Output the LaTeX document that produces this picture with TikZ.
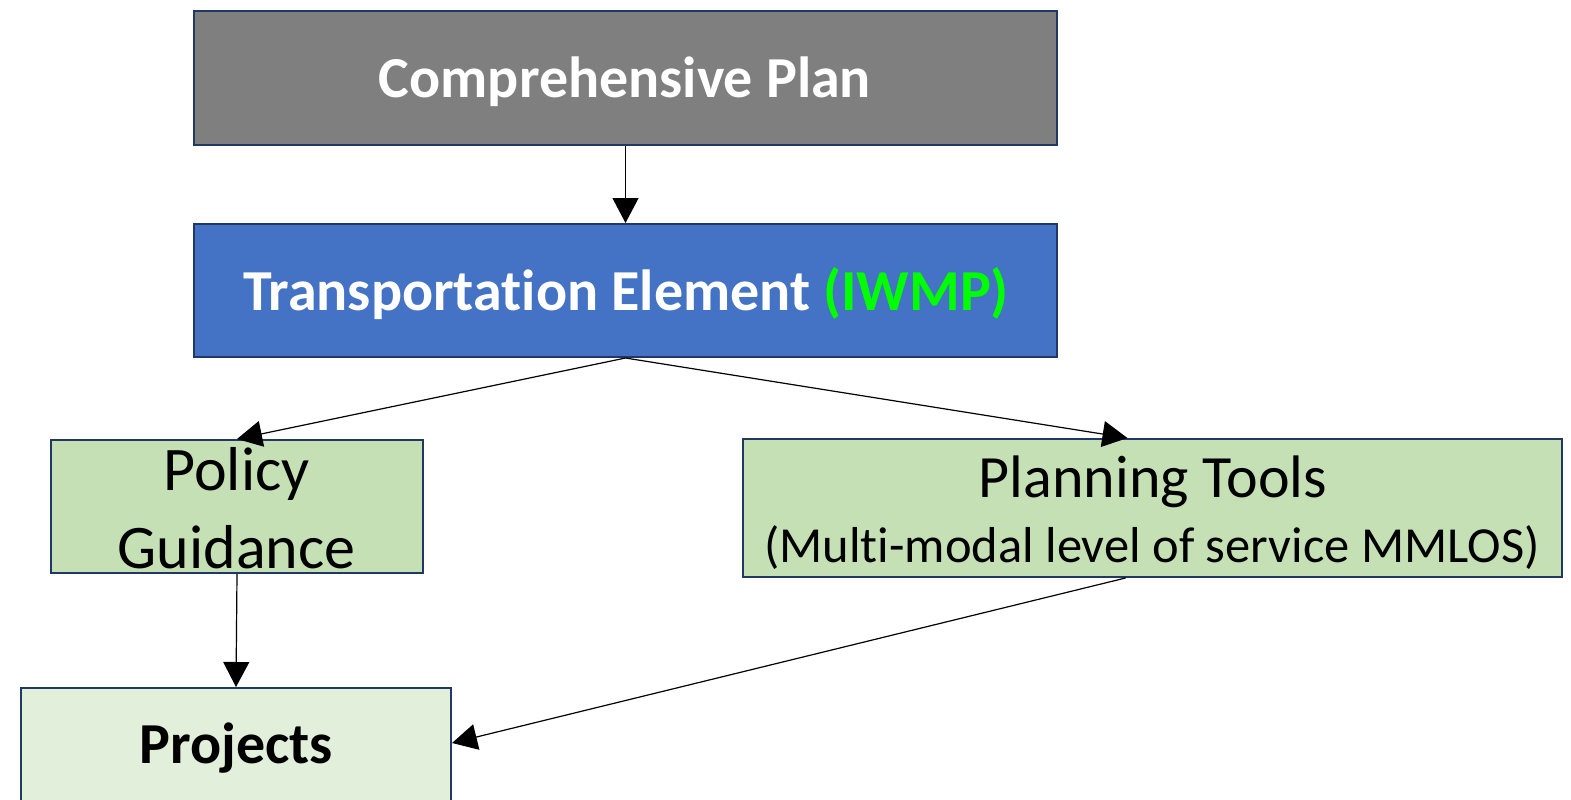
\documentclass[tikz,border=0pt]{standalone}
\usepackage{fontspec}
\setmainfont{Carlito}[Ligatures=NoCommon]
\usetikzlibrary{arrows.meta}
\definecolor{boxborder}{HTML}{1F3864}
\definecolor{compgray}{HTML}{7F7F7F}
\definecolor{transblue}{HTML}{4472C4}
\definecolor{midgreen}{HTML}{C5E0B4}
\definecolor{lightgreen}{HTML}{E2EFDA}
\definecolor{iwmpgreen}{HTML}{00FF00}
\tikzset{
  boxnode/.style={draw=boxborder, line width=2bp, inner sep=0pt, rectangle},
  txt/.style={anchor=base, inner sep=0pt},
  conn/.style={draw=black, line width=1.2bp, -{Triangle[length=25bp,width=26bp]}},
}
\begin{document}
\begin{tikzpicture}[x=1bp,y=-1bp]
\useasboundingbox (0,0) rectangle (1571,799);
% boxes
\node[boxnode, fill=compgray, minimum width=863bp, minimum height=134bp] (comp) at (625.5,78) {};
\node[boxnode, fill=transblue, minimum width=863bp, minimum height=133bp] (trans) at (625.5,290.5) {};
\node[boxnode, fill=midgreen, minimum width=372bp, minimum height=133bp] (policy) at (237,506.5) {};
\node[boxnode, fill=midgreen, minimum width=819bp, minimum height=138bp] (plan) at (1152.5,508) {};
\node[boxnode, fill=lightgreen, minimum width=430bp, minimum height=120bp] (proj) at (236,748) {};
% texts
\node[txt, font=\fontsize{58bp}{70bp}\selectfont\bfseries, text=white] (compT) at (625,97) {Comprehensive Plan};
\node[txt, font=\fontsize{58bp}{70bp}\selectfont\bfseries, text=white] (transT) at (626,310) {Transportation Element \textcolor{iwmpgreen}{(IWMP)}};
\node[txt, font=\fontsize{62bp}{78bp}\selectfont] (polT1) at (236.5,490) {Policy};
\node[txt, font=\fontsize{62bp}{78bp}\selectfont] (polT2) at (236.5,568) {Guidance};
\node[txt, font=\fontsize{60bp}{72bp}\selectfont] (planT1) at (1153,497) {Planning Tools};
\node[txt, font=\fontsize{50.5bp}{60bp}\selectfont] (planT2) at (1152,562) {(Multi-modal level of service MMLOS)};
\node[txt, font=\fontsize{58bp}{70bp}\selectfont\bfseries] (projT) at (236,763) {Projects};
% connectors
\draw[conn] (comp.south) -- (trans.north);
\draw[conn] (trans.south) -- (policy.north);
\draw[conn] (trans.south) -- ([xshift=-25bp]plan.north);
\draw[conn] (policy.south) -- (proj.north);
\draw[conn] ([xshift=-27bp]plan.south) -- ([yshift=5bp]proj.east);
\end{tikzpicture}
\end{document}
